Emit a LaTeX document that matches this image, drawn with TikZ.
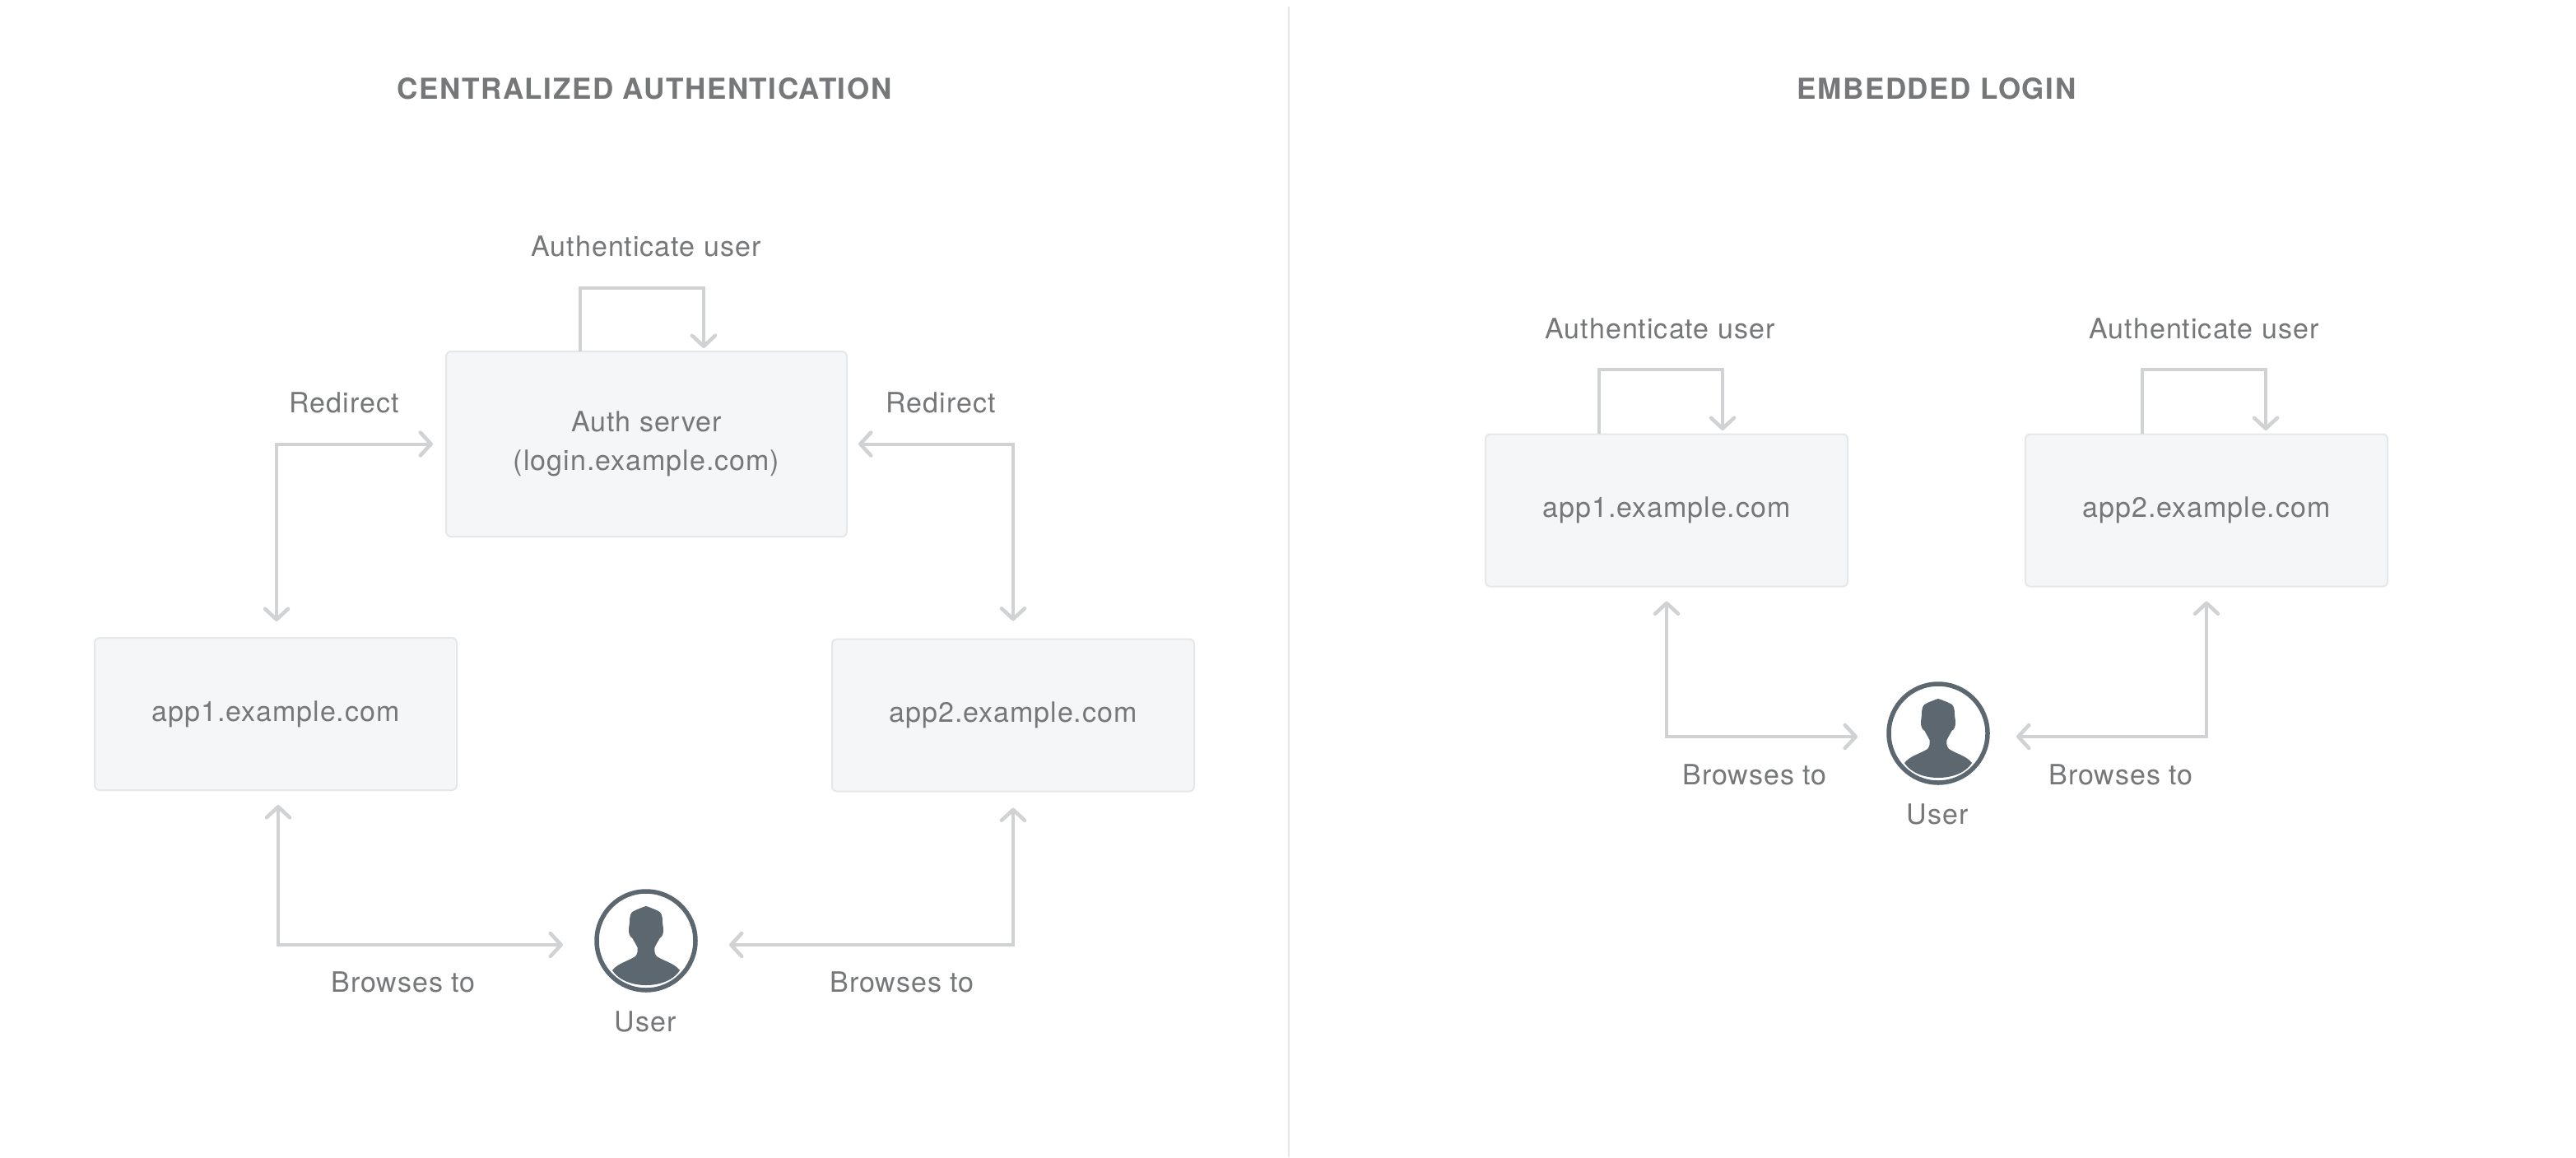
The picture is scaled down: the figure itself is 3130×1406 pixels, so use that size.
\documentclass[tikz,border=0pt]{standalone}
\usepackage{fontspec}
\setmainfont[LetterSpace=3.0,Ligatures=NoCommon]{TeX Gyre Heros}
\newfontfamily\ttlfont[LetterSpace=4.5]{TeX Gyre Heros}
\usetikzlibrary{arrows.meta,calc}
\definecolor{conn}{HTML}{D0D2D3}
\definecolor{boxfill}{HTML}{F5F6F8}
\definecolor{boxline}{HTML}{E6E7E9}
\definecolor{txt}{HTML}{757779}
\definecolor{usr}{HTML}{5C6770}
\definecolor{divline}{HTML}{E6E6E6}
\tikzset{
  x=1pt,y=-1pt,
  sitebox/.style={draw=boxline,fill=boxfill,line width=2pt,rounded corners=6pt,minimum width=440pt,minimum height=185pt,inner sep=0pt,text=txt,font=\fontsize{34}{47}\selectfont,align=center},
  authbox/.style={sitebox,minimum width=487pt,minimum height=225pt},
  lab/.style={text=txt,font=\fontsize{34}{40}\selectfont,inner sep=0pt},
  ttl/.style={text=txt,font=\ttlfont\fontsize{35}{42}\selectfont\bfseries,inner sep=0pt},
  link/.style={draw=conn,line width=4pt,line cap=butt,line join=miter},
  tip/.tip={Straight Barb[length=13pt,width=28pt,line width=4.5pt,round]},
  usercircle/.style={circle,draw=usr,fill=white,line width=5.5pt,minimum size=120pt,inner sep=0pt},
  pics/person/.style={code={
    \fill[usr] (-41,36) .. controls (-34,27) and (-22,25) .. (-13,19)
      .. controls (-10,16) and (-10,11) .. (-10.5,8)
      .. controls (-13,3) and (-15,0) .. (-16.5,-3)
      .. controls (-20,-5) and (-21,-9) .. (-21,-13)
      .. controls (-21,-16) and (-20.5,-18) .. (-20,-22)
      .. controls (-20,-30) and (-19,-35) .. (-14,-36.5)
      .. controls (-12,-37) and (-10,-39) .. (-7,-39.5)
      .. controls (-4,-40) and (-3,-42) .. (0,-42)
      .. controls (3,-42) and (4,-40) .. (7,-39.5)
      .. controls (10,-39) and (12,-37) .. (14,-36.5)
      .. controls (19,-35) and (20,-30) .. (20,-22)
      .. controls (20.5,-18) and (21,-16) .. (21,-13)
      .. controls (21,-9) and (20,-5) .. (16.5,-3)
      .. controls (15,0) and (13,3) .. (10.5,8)
      .. controls (10,11) and (10,16) .. (13,19)
      .. controls (22,25) and (34,27) .. (41,36)
      .. controls (26,60) and (-26,60) .. (-41,36) -- cycle;
  }},
}
\begin{document}
\begin{tikzpicture}
\useasboundingbox (0,0) rectangle (3130,1406);
\fill[white] (0,0) rectangle (3130,1406);
\coordinate (divtop) at (1566,8);
\coordinate (divbot) at (1566,1406);
\draw[divline,line width=2pt] (divtop) -- (divbot);

\node[ttl] (titleA) at (783,108) {CENTRALIZED AUTHENTICATION};
\node[ttl] (titleB) at (2353,108) {EMBEDDED LOGIN};

% left panel
\node[authbox] (auth) at (785.5,539.5) {Auth server\\(login.example.com)};
\node[sitebox] (appA) at (335,867.5) {app1.example.com};
\node[sitebox] (appB) at (1231,869) {app2.example.com};
\node[usercircle] (user) at (785,1143) {};
\pic at (user.center) {person};
\node[lab] (userlab) at (784,1241) {User};
\node[lab] (authlab) at (785,299) {Authenticate user};
\node[lab] (redA) at (418,489) {Redirect};
\node[lab] (redB) at (1143,489) {Redirect};
\node[lab] (brA) at (490,1193) {Browses to};
\node[lab] (brB) at (1096,1193) {Browses to};

\coordinate (aS) at (705,427);
\coordinate (aE) at (855,427);
\coordinate (aT) at (705,350);
\coordinate (aU) at (855,350);
\draw[link,-{tip}] (aS) -- (aT) -- (aU) -- ([yshift=4pt]aE);

\draw[link,{tip}-{tip},shorten <=19pt,shorten >=15pt] ([xshift=1pt]appA.north) |- (auth.west);
\draw[link,{tip}-{tip},shorten <=21pt,shorten >=13pt] (appB.north) |- (auth.east);

\coordinate (uLA) at (684,1148);
\coordinate (uRA) at (886,1148);
\draw[link,{tip}-{tip},shorten <=17pt] ([xshift=3pt]appA.south) |- (uLA);
\draw[link,{tip}-{tip},shorten <=19pt] (appB.south) |- (uRA);

% right panel
\node[sitebox] (appC) at (2025,620) {app1.example.com};
\node[sitebox] (appD) at (2681,620) {app2.example.com};
\node[usercircle] (userR) at (2355,891) {};
\pic at (userR.center) {person};
\node[lab] (userlabR) at (2354,989) {User};
\node[lab] (authC) at (2017,399) {Authenticate user};
\node[lab] (authD) at (2678,399) {Authenticate user};
\node[lab] (brC) at (2132,941) {Browses to};
\node[lab] (brD) at (2577,941) {Browses to};

\coordinate (cS) at (1943,527);
\coordinate (cE) at (2093,527);
\coordinate (cT) at (1943,449);
\coordinate (cU) at (2093,449);
\draw[link,-{tip}] (cS) -- (cT) -- (cU) -- ([yshift=4pt]cE);
\coordinate (dS) at (2603,527);
\coordinate (dE) at (2753,527);
\coordinate (dT) at (2603,449);
\coordinate (dU) at (2753,449);
\draw[link,-{tip}] (dS) -- (dT) -- (dU) -- ([yshift=4pt]dE);

\coordinate (uLB) at (2257,895);
\coordinate (uRB) at (2450,895);
\draw[link,{tip}-{tip},shorten <=17pt] (appC.south) |- (uLB);
\draw[link,{tip}-{tip},shorten <=17pt] (appD.south) |- (uRB);
\end{tikzpicture}
\end{document}
